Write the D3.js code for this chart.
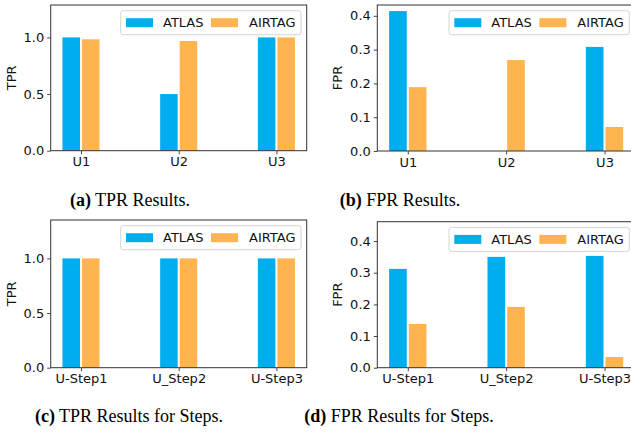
<!DOCTYPE html>
<html>
<head>
<meta charset="utf-8">
<script src="https://cdn.jsdelivr.net/npm/d3@7"></script>
<style>
  html, body { margin: 0; padding: 0; background: #fff; }
  svg { display: block; }
</style>
</head>
<body>
<svg id="chart" width="631" height="433"></svg>
<script>
// ---- data ----
const userCats = ["U1", "U2", "U3"];
const stepCats = ["U-Step1", "U_Step2", "U-Step3"];
const seriesNames = ["ATLAS", "AIRTAG"];
const tprAtlas = [1.0, 0.5, 1.0];
const tprAirtag = [0.983, 0.968, 1.0];
const fprAtlas = [0.414, 0.0, 0.308];
const fprAirtag = [0.189, 0.269, 0.071];
const stepTprAtlas = [1.0, 1.0, 1.0];
const stepTprAirtag = [1.0, 1.0, 1.0];
const stepFprAtlas = [0.312, 0.350, 0.353];
const stepFprAirtag = [0.138, 0.192, 0.034];
const tprTicks = [0.0, 0.5, 1.0];
const fprTicks = [0.0, 0.1, 0.2, 0.3, 0.4];
const captions = [
  ["(a)", " TPR Results."],
  ["(b)", " FPR Results."],
  ["(c)", " TPR Results for Steps."],
  ["(d)", " FPR Results for Steps."]
];

// ---- style ----
const colors = ["#00AEEF", "#FFB44F"];
const sans = "'DejaVu Sans', sans-serif";
const serif = "'Liberation Serif', 'Times New Roman', serif";
const svg = d3.select("#chart");

function panel(cfg) {
  const g = svg.append("g");
  const x = d3.scaleLinear().domain([-0.31, 2.31]).range([cfg.left, cfg.right]);
  const y = d3.scaleLinear().domain([0, cfg.ymax]).range([cfg.bottom, cfg.top]);
  const bw = x(0.2) - x(0);

  [cfg.a, cfg.b].forEach((vals, s) => {
    g.selectAll(null).data(vals).enter().append("rect")
      .attr("x", (d, i) => x(i - 0.2 + s * 0.2) + 1)
      .attr("width", bw - 2)
      .attr("y", d => y(d))
      .attr("height", d => y(0) - y(d))
      .attr("fill", colors[s]);
  });

  // axes
  const ax = g.append("g").attr("transform", `translate(0,${cfg.bottom})`)
    .call(d3.axisBottom(x).tickValues([0, 1, 2]).tickFormat(i => cfg.cats[i]).tickSize(3.5).tickPadding(3));
  const ay = g.append("g").attr("transform", `translate(${cfg.left},0)`)
    .call(d3.axisLeft(y).tickValues(cfg.ticks).tickFormat(d3.format(".1f")).tickSize(3.5).tickPadding(3));
  [ax, ay].forEach(a => {
    a.select(".domain").remove();
    a.selectAll("line").attr("stroke", "#333").attr("stroke-width", 0.9);
    a.selectAll("text").attr("font-family", sans).attr("font-size", 13).attr("fill", "#111");
  });
  g.append("rect")
    .attr("x", cfg.left).attr("y", cfg.top)
    .attr("width", cfg.right - cfg.left).attr("height", cfg.bottom - cfg.top)
    .attr("fill", "none").attr("stroke", "#333").attr("stroke-width", 1);

  g.append("text")
    .attr("transform", `translate(${cfg.left - 35},${(cfg.top + cfg.bottom) / 2}) rotate(-90)`)
    .attr("text-anchor", "middle")
    .attr("font-family", sans).attr("font-size", 13).attr("fill", "#111")
    .text(cfg.ylabel);

  // legend
  const lx = cfg.right - 5.7 - 180.3, ly = cfg.top + 5.7;
  const lg = g.append("g").attr("transform", `translate(${lx},${ly})`);
  lg.append("rect").attr("width", 180.3).attr("height", 24).attr("rx", 2.5)
    .attr("fill", "#fff").attr("fill-opacity", 0.8).attr("stroke", "#d4d4d4").attr("stroke-width", 1);
  const offs = [[5.3, 42.3], [90.3, 128.3]];
  seriesNames.forEach((n, s) => {
    lg.append("rect").attr("x", offs[s][0]).attr("y", 7.5).attr("width", 27).attr("height", 9).attr("fill", colors[s]);
    lg.append("text").attr("x", offs[s][1]).attr("y", 16.8)
      .attr("font-family", sans).attr("font-size", 13).attr("fill", "#111").text(n);
  });
}

panel({left: 50.7, right: 306.7, top: 5, bottom: 150.7, ymax: 1.286, ticks: tprTicks, cats: userCats, a: tprAtlas, b: tprAirtag, ylabel: "TPR"});
panel({left: 377.3, right: 635, top: 5, bottom: 151, ymax: 0.432, ticks: fprTicks, cats: userCats, a: fprAtlas, b: fprAirtag, ylabel: "FPR"});
panel({left: 50.7, right: 306.7, top: 220, bottom: 367.7, ymax: 1.351, ticks: tprTicks, cats: stepCats, a: stepTprAtlas, b: stepTprAirtag, ylabel: "TPR"});
panel({left: 377.3, right: 635, top: 221.7, bottom: 367.7, ymax: 0.461, ticks: fprTicks, cats: stepCats, a: stepFprAtlas, b: stepFprAirtag, ylabel: "FPR"});

// captions
const capPos = [[130, 206], [400, 206], [129, 421.5], [399, 421.5]];
captions.forEach((c, i) => {
  const t = svg.append("text").attr("x", capPos[i][0]).attr("y", capPos[i][1])
    .attr("text-anchor", "middle").attr("font-family", serif).attr("font-size", 18).attr("fill", "#000");
  t.append("tspan").attr("font-weight", "bold").text(c[0]);
  t.append("tspan").text(c[1]);
});
</script>
</body>
</html>
